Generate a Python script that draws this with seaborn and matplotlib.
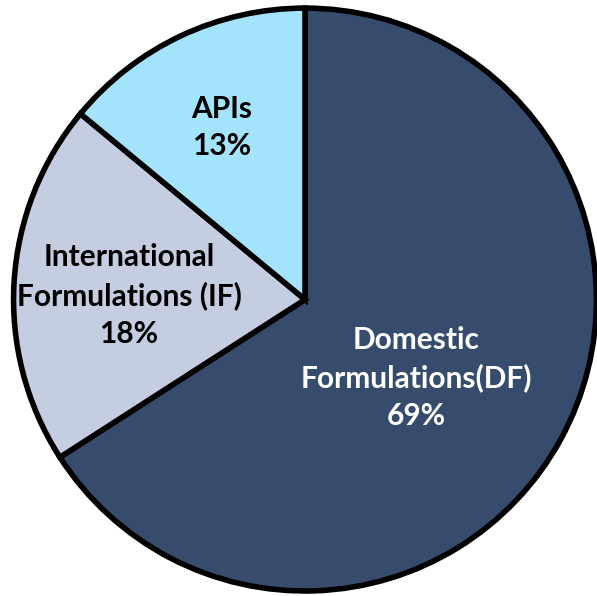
import matplotlib
matplotlib.use('Agg')
import matplotlib.pyplot as plt
import seaborn as sns

# segments, clockwise from 12 o'clock
segments = ['Domestic\nFormulations(DF)', 'International\nFormulations (IF)', 'APIs']
shares = [65.9, 20.1, 14.0]          # wedge sizes as drawn in the picture
pct_labels = ['69%', '18%', '13%']   # percentages printed on the chart
colors = ['#374C6C', '#C4CEE0', '#A3E4FC']
text_colors = ['white', 'black', 'black']

# label anchor points (axes data units, radius = 1)
label_pos = [(0.381, -0.269), (-0.604, 0.015), (-0.285, 0.59)]

sns.set_theme(style="white")
plt.rcParams['font.family'] = ['Lato', 'DejaVu Sans']

fig = plt.figure(figsize=(5.97, 5.96), dpi=100)
ax = fig.add_axes([0.0226, 0.0084, 0.9766, 0.978])

wedges, _ = ax.pie(shares, colors=colors, startangle=90, counterclock=False,
                   wedgeprops=dict(edgecolor='black', linewidth=4))
for w in wedges:
    w.set_clip_on(False)

for name, pct, (x, y), tc in zip(segments, pct_labels, label_pos, text_colors):
    ax.text(x, y, f'{name}\n{pct}', ha='center', va='center', color=tc,
            fontsize=21.5, fontweight='bold', linespacing=1.42)

ax.set_xlim(-1, 1)
ax.set_ylim(-1, 1)
ax.axis('off')

fig.savefig('out.png', dpi=100)
